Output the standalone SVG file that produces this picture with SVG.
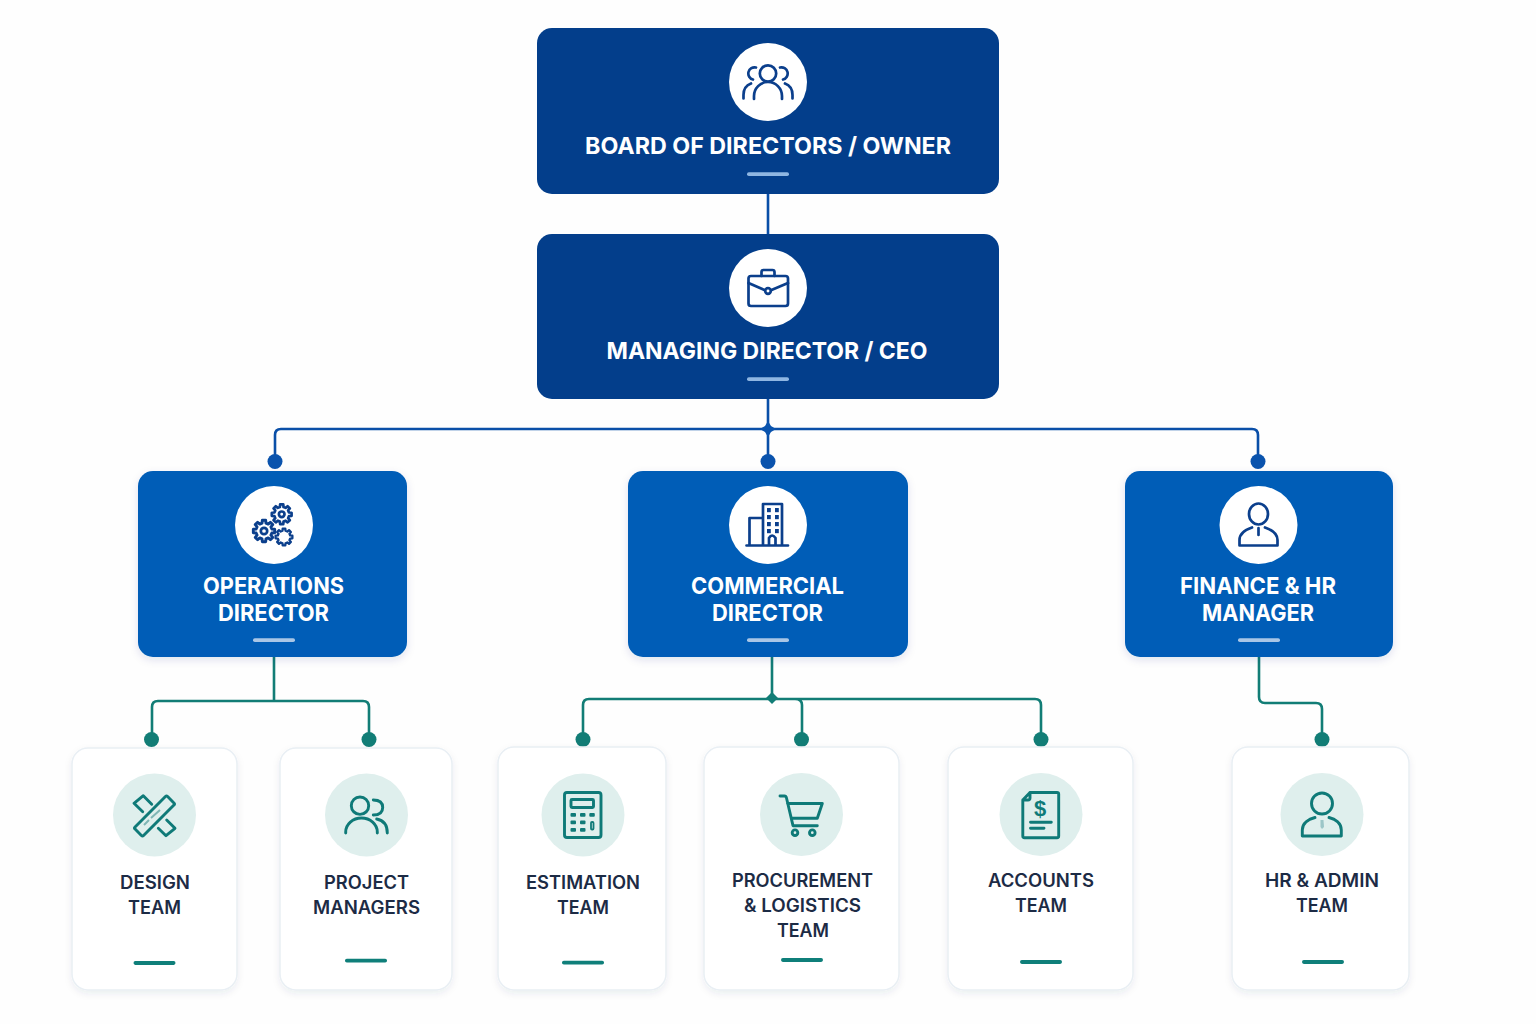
<svg xmlns="http://www.w3.org/2000/svg" xmlns:xlink="http://www.w3.org/1999/xlink" width="1536" height="1024" viewBox="0 0 1536 1024">
<style>
.t1{font-family:"Inter","Noto Sans","Liberation Sans",sans-serif;font-weight:700;font-size:23.5px;fill:#fff;text-anchor:middle}
.t2{font-family:"Inter","Noto Sans","Liberation Sans",sans-serif;font-weight:600;font-size:18px;fill:#1c2b45;text-anchor:middle}
.top{fill:#033e8b}.mid{fill:#055db7}
.card{fill:#fff;stroke:#e9eff4;stroke-width:1.5;filter:url(#sc)}
.disc{fill:#fff}.tdisc{fill:#dfefed}
.ib{fill:none;stroke:#0b3f8c;stroke-width:2.7;stroke-linecap:round;stroke-linejoin:round}
.it{fill:none;stroke:#0f7a78;stroke-width:2.9;stroke-linecap:round;stroke-linejoin:round}
.ft{fill:#0f7a78}.fb{fill:#0b3f8c}
.bb{fill:#8fb6e2}.bm{fill:#a9c6e6}.bt{fill:#0f7f7a}
.cb{fill:none;stroke:#0a4fa8;stroke-width:2.6}
.ct{fill:none;stroke:#127d76;stroke-width:2.6}
.db{fill:#0a53ad}.dt{fill:#127d76}
</style>
<defs>
<filter id="sc" x="-20%" y="-20%" width="140%" height="140%"><feDropShadow dx="0" dy="3" stdDeviation="3.500" flood-color="#1a3a5a" flood-opacity="0.08"/></filter>
<filter id="sd" x="-10%" y="-10%" width="120%" height="125%"><feDropShadow dx="0" dy="3" stdDeviation="4" flood-color="#0a3a7a" flood-opacity="0.12"/></filter>
<path id="gear" d="M7.28-1.81 9.88-1.56 9.88 1.56 7.28 1.81 6.43 3.87 8.09 5.88 5.88 8.09 3.87 6.43 1.81 7.28 1.56 9.88-1.56 9.88-1.81 7.28-3.87 6.43-5.88 8.09-8.09 5.88-6.43 3.87-7.28 1.81-9.88 1.56-9.88-1.56-7.28-1.81-6.43-3.87-8.09-5.88-5.88-8.09-3.87-6.43-1.81-7.28-1.56-9.88 1.56-9.88 1.81-7.28 3.87-6.43 5.88-8.09 8.09-5.88 6.43-3.87Z"/>
</defs>
<rect width="1536" height="1024" fill="#fefefe"/>
<g id="connectors">
<path class="cb" d="M768 194V234M768 399V461M275 461V435Q275 429 281 429H1252Q1258 429 1258 435V461"/>
<path class="db" d="M768 421 771 426 776 429 771 432 768 437 765 432 760 429 765 426Z"/>
<circle class="db" cx="275" cy="461.500" r="7.500"/><circle class="db" cx="768" cy="461.500" r="7.500"/><circle class="db" cx="1258" cy="461.500" r="7.500"/>
<path class="ct" d="M274 657V701M152 739V707Q152 701 158 701H363Q369 701 369 707V739"/>
<path class="ct" d="M772 657V699M583 739V705Q583 699 589 699H1035Q1041 699 1041 705V739M795 699Q802 699 802 705V739"/>
<path class="dt" d="M772 692 778 698 772 704 766 698Z"/>
<path class="ct" d="M1259 657V697Q1259 703 1265 703H1316Q1322 703 1322 709V739"/>
<circle class="dt" cx="151.500" cy="739.500" r="7.500"/><circle class="dt" cx="369" cy="739.500" r="7.500"/><circle class="dt" cx="583" cy="739.500" r="7.500"/><circle class="dt" cx="801.500" cy="739.500" r="7.500"/><circle class="dt" cx="1041" cy="739.500" r="7.500"/><circle class="dt" cx="1322" cy="739.500" r="7.500"/>
</g>
<g id="board">
<rect class="top" x="537" y="28" width="462" height="166" rx="15"/>
<circle class="disc" cx="768" cy="82" r="39"/>
<g class="ib"><circle cx="768" cy="73.500" r="8.200"/><path d="M754 99V96A14 14 0 0 1 782 96V99"/><path d="M756 67.500A6 6 0 0 0 753 79.500M780 67.500A6 6 0 0 1 783 79.500M743.500 98.500V95C743.500 89 747 85 751 83.500M792.500 98.500V95C792.500 89 789 85 785 83.500"/></g>
<text class="t1" x="768" y="154" textLength="366" lengthAdjust="spacingAndGlyphs">BOARD OF DIRECTORS / OWNER</text>
<rect class="bb" x="747" y="172.300" width="42" height="3.800" rx="1.800"/>
</g>
<g id="ceo">
<rect class="top" x="537" y="234" width="462" height="165" rx="15"/>
<circle class="disc" cx="768" cy="288" r="39"/>
<g class="ib"><rect x="748.500" y="276" width="39.500" height="30" rx="2.500"/><path d="M761.500 276V272Q761.500 270 763.500 270H772.500Q774.500 270 774.500 272V276"/><path d="M748.500 283 764.500 290M771.500 290 788 283"/><circle cx="768" cy="291" r="2.800"/></g>
<text class="t1" x="767" y="359" textLength="321" lengthAdjust="spacingAndGlyphs">MANAGING DIRECTOR / CEO</text>
<rect class="bb" x="747" y="377.300" width="42" height="3.800" rx="1.800"/>
</g>
<g id="operations">
<rect class="mid" x="138" y="471" width="269" height="186" rx="15" filter="url(#sd)"/>
<circle class="disc" cx="274" cy="525" r="39"/>
<g class="ib"><use xlink:href="#gear" href="#gear" transform="translate(281.700 514.300)"/><circle cx="281.700" cy="514.300" r="2.800"/><use xlink:href="#gear" href="#gear" transform="translate(264 531) scale(1.080)"/><circle cx="264" cy="531" r="3.200"/><use xlink:href="#gear" href="#gear" transform="translate(284 537) scale(.85)"/></g>
<text class="t1" x="273.500" y="593.500" textLength="141" lengthAdjust="spacingAndGlyphs">OPERATIONS</text>
<text class="t1" x="273.500" y="621" textLength="111" lengthAdjust="spacingAndGlyphs">DIRECTOR</text>
<rect class="bm" x="253" y="638.300" width="42" height="3.800" rx="1.800"/>
</g>
<g id="commercial">
<rect class="mid" x="628" y="471" width="280" height="186" rx="15" filter="url(#sd)"/>
<circle class="disc" cx="768" cy="525" r="39"/>
<g class="ib"><path d="M763 545V504H782V545M763 518H749.500V545M746.500 545.500H788M769 545V538Q772 533 775.500 538V545"/></g>
<g class="fb"><rect x="767" y="508" width="3.800" height="4.200"/><rect x="775" y="508" width="3.800" height="4.200"/><rect x="767" y="515" width="3.800" height="4.200"/><rect x="775" y="515" width="3.800" height="4.200"/><rect x="767" y="522" width="3.800" height="4.200"/><rect x="775" y="522" width="3.800" height="4.200"/><rect x="767" y="529" width="3.800" height="4.200"/><rect x="775" y="529" width="3.800" height="4.200"/></g>
<text class="t1" x="767.500" y="593.500" textLength="153" lengthAdjust="spacingAndGlyphs">COMMERCIAL</text>
<text class="t1" x="767.500" y="621" textLength="111" lengthAdjust="spacingAndGlyphs">DIRECTOR</text>
<rect class="bm" x="747" y="638.300" width="42" height="3.800" rx="1.800"/>
</g>
<g id="finance">
<rect class="mid" x="1125" y="471" width="268" height="186" rx="15" filter="url(#sd)"/>
<circle class="disc" cx="1258.500" cy="525" r="39"/>
<g class="ib"><ellipse cx="1258.500" cy="514" rx="9.500" ry="10.500"/><path d="M1252 527.500C1246 529.500 1239.500 533 1239.500 540V545.500H1277.500V540C1277.500 533 1271 529.500 1265 527.500M1258.500 528V535"/></g>
<text class="t1" x="1258" y="593.500" textLength="156" lengthAdjust="spacingAndGlyphs">FINANCE &amp; HR</text>
<text class="t1" x="1258" y="621" textLength="112" lengthAdjust="spacingAndGlyphs">MANAGER</text>
<rect class="bm" x="1238" y="638.300" width="42" height="3.800" rx="1.800"/>
</g>
<g id="design">
<rect class="card" x="72" y="748" width="165" height="242" rx="16"/>
<circle class="tdisc" cx="154.500" cy="815" r="41.500"/>
<g class="it"><path d="M142.700 811.700 134 803.300 143.300 795.700 151.700 804.300M166.700 820 175 828.300 166 835.700 158.300 828.300"/><rect x="-23" y="-6" width="46" height="12" rx="1.500" transform="translate(154.500 816) rotate(-45)"/></g>
<path d="M144 825 149 820M151 818 160 810" fill="none" stroke="#7fb6b5" stroke-width="2"/>
<text class="t2" x="155" y="888.500" textLength="70" lengthAdjust="spacingAndGlyphs">DESIGN</text>
<text class="t2" x="154.500" y="913.500" textLength="53" lengthAdjust="spacingAndGlyphs">TEAM</text>
<rect class="bt" x="133.500" y="961.100" width="42" height="3.800" rx="1.800"/>
</g>
<g id="project">
<rect class="card" x="280" y="748" width="172" height="242" rx="16"/>
<circle class="tdisc" cx="366.500" cy="815" r="41.500"/>
<g class="it"><circle cx="360" cy="805.700" r="8.700"/><path d="M345.700 833V832A15.800 14 0 0 1 377.300 832V833M373.300 800Q382.700 800 382.700 807.500T373.300 815M376.700 819Q387.300 821 387.300 833"/></g>
<text class="t2" x="366.500" y="888.500" textLength="85" lengthAdjust="spacingAndGlyphs">PROJECT</text>
<text class="t2" x="366.500" y="913.500" textLength="107" lengthAdjust="spacingAndGlyphs">MANAGERS</text>
<rect class="bt" x="345" y="958.800" width="42" height="3.800" rx="1.800"/>
</g>
<g id="estimation">
<rect class="card" x="498" y="747" width="168" height="243" rx="16"/>
<circle class="tdisc" cx="583" cy="815" r="41.500"/>
<g class="it"><rect x="564.500" y="792.500" width="36.500" height="45" rx="2.500"/><rect x="571" y="799.500" width="22.500" height="8" rx="1"/><rect x="591" y="822" width="2.500" height="7.500" rx="1" stroke-width="1.800"/></g>
<g class="ft"><rect x="570.500" y="813" width="5.500" height="3.800" rx="1"/><rect x="580" y="813" width="5.500" height="3.800" rx="1"/><rect x="589.300" y="813" width="5.500" height="3.800" rx="1"/><rect x="570.500" y="820.500" width="5.500" height="3.800" rx="1"/><rect x="580" y="820.500" width="5.500" height="3.800" rx="1"/><rect x="570.500" y="828" width="5.500" height="3.800" rx="1"/><rect x="580" y="828" width="5.500" height="3.800" rx="1"/></g>
<text class="t2" x="583" y="888.500" textLength="114" lengthAdjust="spacingAndGlyphs">ESTIMATION</text>
<text class="t2" x="583" y="913.500" textLength="52" lengthAdjust="spacingAndGlyphs">TEAM</text>
<rect class="bt" x="562" y="960.800" width="42" height="3.800" rx="1.800"/>
</g>
<g id="procurement">
<rect class="card" x="704" y="747" width="195" height="243" rx="16"/>
<circle class="tdisc" cx="801.500" cy="814.500" r="41.500"/>
<g class="it"><path d="M780 796H784.500Q786 796 786.500 798L793 825.700H817.300M787.500 803.500H822.300L817.300 818.300H791.500"/><circle cx="795" cy="832.700" r="2.800"/><circle cx="812.300" cy="832.700" r="2.800"/></g>
<text class="t2" x="802.500" y="886.500" textLength="141" lengthAdjust="spacingAndGlyphs">PROCUREMENT</text>
<text class="t2" x="802.500" y="911.500" textLength="117" lengthAdjust="spacingAndGlyphs">&amp; LOGISTICS</text>
<text class="t2" x="803" y="936.500" textLength="52" lengthAdjust="spacingAndGlyphs">TEAM</text>
<rect class="bt" x="781" y="958.100" width="42" height="3.800" rx="1.800"/>
</g>
<g id="accounts">
<rect class="card" x="948" y="747" width="185" height="243" rx="16"/>
<circle class="tdisc" cx="1041" cy="814.500" r="41.500"/>
<g class="it"><path d="M1030 792.500H1057Q1058.700 792.500 1058.700 794V836Q1058.700 837.700 1057 837.700H1024.500Q1022.800 837.700 1022.800 836V800ZM1030 792.500V798Q1030 800 1028 800H1022.800M1030.500 822.300H1051.300M1030.500 828.300H1044"/></g>
<text x="1040" y="816" font-family="'Liberation Sans',sans-serif" font-weight="700" font-size="22" fill="#0f7a78" text-anchor="middle">$</text>
<text class="t2" x="1041" y="886.500" textLength="106" lengthAdjust="spacingAndGlyphs">ACCOUNTS</text>
<text class="t2" x="1041" y="911.500" textLength="52" lengthAdjust="spacingAndGlyphs">TEAM</text>
<rect class="bt" x="1020" y="960.100" width="42" height="3.800" rx="1.800"/>
</g>
<g id="hr">
<rect class="card" x="1232" y="747" width="177" height="243" rx="16"/>
<circle class="tdisc" cx="1322" cy="814.500" r="41.500"/>
<path d="M1320.500 820H1323.500L1324 827 1322 829 1320.500 827Z" fill="#9cc6c8"/>
<g class="it"><circle cx="1322" cy="803.500" r="10.500"/><path d="M1315 817.500C1309 819 1302.300 823 1302.300 830V836H1341.300V830C1341.300 823 1335 819 1329 817.500"/></g>
<text class="t2" x="1322" y="886.500" textLength="114" lengthAdjust="spacingAndGlyphs">HR &amp; ADMIN</text>
<text class="t2" x="1322" y="911.500" textLength="52" lengthAdjust="spacingAndGlyphs">TEAM</text>
<rect class="bt" x="1302" y="960.100" width="42" height="3.800" rx="1.800"/>
</g>
</svg>
